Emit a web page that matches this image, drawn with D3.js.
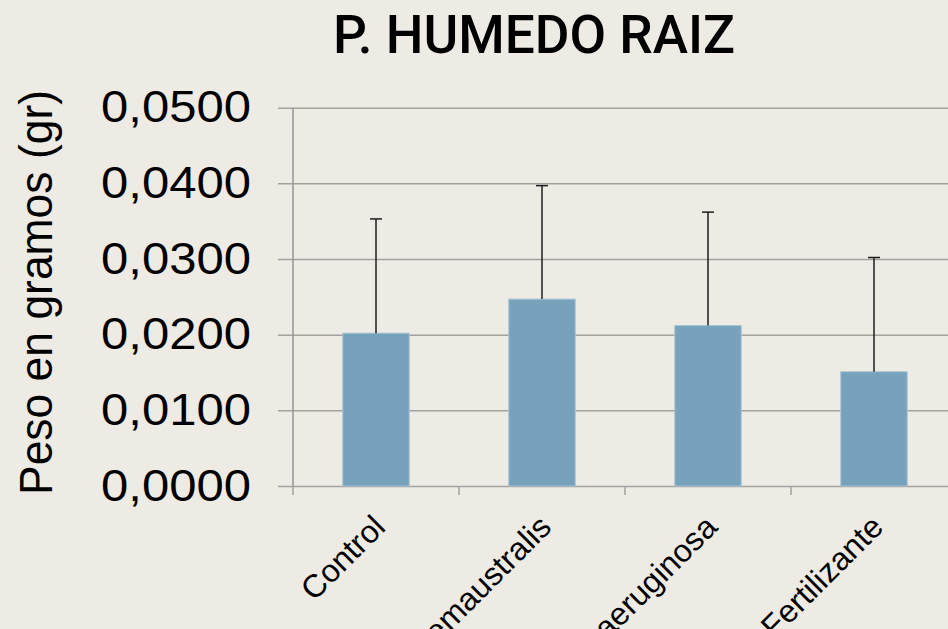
<!DOCTYPE html>
<html>
<head>
<meta charset="utf-8">
<script src="https://cdn.jsdelivr.net/npm/d3@7"></script>
<style>
  body { margin: 0; background: #eeebe4; }
  #wrapper { width: 948px; height: 629px; overflow: hidden; }
</style>
</head>
<body>
<div id="wrapper"></div>
<script>
// Chart data
const categories = ["Control", "P. emaustralis", "P. aeruginosa", "Fertilizante"];
const means = [0.0202, 0.0247, 0.0212, 0.0151];
const errors = [0.0151, 0.0150, 0.0150, 0.0151];
const yTicks = [0, 0.01, 0.02, 0.03, 0.04, 0.05];
const title = "P. HUMEDO RAIZ";
const yTitle = "Peso en gramos (gr)";

const dataset = categories.map((c, i) => ({ cat: c, mean: means[i], err: errors[i] }));

let dimensions = {
  width: 948,
  height: 629,
  margin: { top: 107.7, right: -9, bottom: 143, left: 293 }
};
dimensions.boundedWidth = dimensions.width - dimensions.margin.left - dimensions.margin.right;
dimensions.boundedHeight = dimensions.height - dimensions.margin.top - dimensions.margin.bottom;

const wrapper = d3.select("#wrapper")
  .append("svg")
  .attr("width", dimensions.width)
  .attr("height", dimensions.height)
  .style("background", "#eeebe4");

const bounds = wrapper.append("g")
  .attr("transform", `translate(${dimensions.margin.left},${dimensions.margin.top})`);

// Scales
const yScale = d3.scaleLinear()
  .domain([0, 0.05])
  .range([dimensions.boundedHeight, 0]);

const xScale = d3.scaleBand()
  .domain(categories)
  .range([0, dimensions.boundedWidth])
  .paddingInner(0.6)
  .paddingOuter(0.3);

// Gridlines + left ticks (labels with comma decimals)
const yAxisGenerator = d3.axisLeft(yScale)
  .tickValues(yTicks)
  .tickSize(-(dimensions.boundedWidth + 15))
  .tickSizeOuter(0)
  .tickPadding(27)
  .tickFormat(d => d3.format(".4f")(d).replace(".", ","));

const yAxis = bounds.append("g")
  .attr("transform", "translate(-15,0)")
  .call(yAxisGenerator);
yAxis.select(".domain").remove();
yAxis.selectAll(".tick line")
  .attr("stroke", "#a3a2a0")
  .attr("stroke-width", 1.5);
yAxis.selectAll(".tick text")
  .attr("x", -27)
  .attr("fill", "#000")
  .style("font-family", "'Liberation Sans', Arial, sans-serif")
  .style("font-size", "44px")
  .attr("textLength", 150)
  .attr("lengthAdjust", "spacingAndGlyphs");

// Vertical axis line
bounds.append("line")
  .attr("x1", 0).attr("x2", 0)
  .attr("y1", 0).attr("y2", dimensions.boundedHeight)
  .attr("stroke", "#959595")
  .attr("stroke-width", 1.5);

// Category ticks at band boundaries
const halfGap = (xScale.step() - xScale.bandwidth()) / 2;
bounds.append("g")
  .selectAll("line")
  .data(dataset)
  .join("line")
  .attr("x1", d => xScale(d.cat) - halfGap)
  .attr("x2", d => xScale(d.cat) - halfGap)
  .attr("y1", dimensions.boundedHeight)
  .attr("y2", dimensions.boundedHeight + 9)
  .attr("stroke", "#a3a2a0")
  .attr("stroke-width", 1.5);

// Bars
bounds.append("g")
  .selectAll("rect")
  .data(dataset)
  .join("rect")
  .attr("x", d => xScale(d.cat))
  .attr("y", d => yScale(d.mean))
  .attr("width", xScale.bandwidth())
  .attr("height", d => yScale(0) - yScale(d.mean))
  .attr("fill", "#76a2bc")
  .attr("stroke", "#a6c3d4")
  .attr("stroke-width", 1);

// Error bars (upper only)
const errG = bounds.append("g")
  .attr("stroke", "#1e1e1e")
  .attr("stroke-width", 1.5);
errG.selectAll(".err-v")
  .data(dataset)
  .join("line")
  .attr("class", "err-v")
  .attr("x1", d => xScale(d.cat) + xScale.bandwidth() / 2)
  .attr("x2", d => xScale(d.cat) + xScale.bandwidth() / 2)
  .attr("y1", d => yScale(d.mean))
  .attr("y2", d => yScale(d.mean + d.err));
errG.selectAll(".err-cap")
  .data(dataset)
  .join("line")
  .attr("class", "err-cap")
  .attr("x1", d => xScale(d.cat) + xScale.bandwidth() / 2 - 6)
  .attr("x2", d => xScale(d.cat) + xScale.bandwidth() / 2 + 6)
  .attr("y1", d => yScale(d.mean + d.err))
  .attr("y2", d => yScale(d.mean + d.err));

// Rotated category labels (cut off by the bottom edge, as in the original)
bounds.append("g")
  .selectAll("text")
  .data(dataset)
  .join("text")
  .attr("transform", d => `translate(${xScale(d.cat) + xScale.bandwidth() / 2 + 11},${dimensions.boundedHeight + 43}) rotate(-45)`)
  .attr("text-anchor", "end")
  .style("font-family", "'Liberation Sans', Arial, sans-serif")
  .style("font-size", "32px")
  .attr("fill", "#000")
  .text(d => d.cat);

// Title
wrapper.append("text")
  .attr("x", 534)
  .attr("y", 53)
  .attr("text-anchor", "middle")
  .style("font-family", "Roboto, 'DejaVu Sans Condensed', sans-serif")
  .style("font-weight", 500)
  .style("font-size", "53px")
  .attr("textLength", 402)
  .attr("lengthAdjust", "spacingAndGlyphs")
  .attr("fill", "#000")
  .text(title);

// y-axis description
wrapper.append("text")
  .attr("transform", "translate(52,292.5) rotate(-90)")
  .attr("text-anchor", "middle")
  .style("font-family", "'Liberation Sans', Arial, sans-serif")
  .style("font-size", "46px")
  .attr("textLength", 405)
  .attr("lengthAdjust", "spacingAndGlyphs")
  .attr("fill", "#000")
  .text(yTitle);
</script>
</body>
</html>
